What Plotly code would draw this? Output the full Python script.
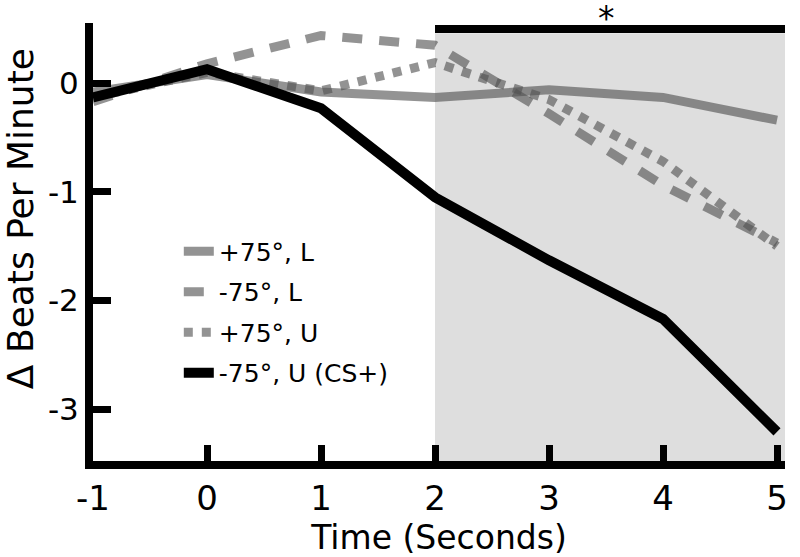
import plotly.graph_objects as go

# ---- data ----
time_s = [-1, 0, 1, 2, 3, 4, 5]
pos75_L = [-0.08, 0.08, -0.08, -0.13, -0.06, -0.13, -0.34]
neg75_L = [-0.17, 0.18, 0.44, 0.35, -0.28, -0.94, -1.47]
pos75_U = [-0.13, 0.10, -0.07, 0.19, -0.15, -0.72, -1.50]
neg75_U_CS = [-0.13, 0.13, -0.23, -1.05, -1.63, -2.17, -3.21]
series_names = ["+75°, L", "-75°, L", "+75°, U", "-75°, U (CS+)"]
x_ticks = [-1, 0, 1, 2, 3, 4, 5]
y_ticks = [-3, -2, -1, 0]
sig_window = [2, 5]
sig_label = "*"

FONT = "DejaVu Sans"
GRAY = "rgba(80,80,80,0.62)"

fig = go.Figure()
styles = [
    dict(color=GRAY, width=9, dash="solid"),
    dict(color=GRAY, width=9, dash="20px,17px"),
    dict(color=GRAY, width=9, dash="9px,9px"),
    dict(color="black", width=10, dash="solid"),
]
for i, (name, ys) in enumerate(zip(series_names, [pos75_L, neg75_L, pos75_U, neg75_U_CS])):
    fig.add_trace(go.Scatter(x=time_s, y=ys, mode="lines", name=name,
                             line=styles[i], legendgroup=f"g{i}", cliponaxis=False))

XR = [-1, 5.07]
YR = [-3.478, 0.555]

fig.add_shape(type="rect", xref="x", yref="y", x0=sig_window[0], x1=XR[1],
              y0=YR[0], y1=0.46, fillcolor="#dedede", line_width=0, layer="below")
fig.add_shape(type="line", xref="x", yref="y", x0=sig_window[0], x1=XR[1],
              y0=0.5, y1=0.5, line=dict(color="black", width=8))
fig.add_annotation(x=(sig_window[0] + sig_window[1]) / 2, y=1.011, xref="x", yref="paper",
                   text=sig_label, showarrow=False, font=dict(family=FONT, size=33, color="black"),
                   yanchor="middle")
fig.add_annotation(x=-0.105, y=0.553, xref="paper", yref="paper", text="Δ Beats Per Minute",
                   textangle=-90, showarrow=False, font=dict(family=FONT, size=36, color="black"),
                   xanchor="center", yanchor="middle")

fig.update_layout(
    width=800, height=557,
    margin=dict(l=93, r=13, t=23, b=91),
    paper_bgcolor="white", plot_bgcolor="white",
    font=dict(family=FONT, color="black"),
    showlegend=True,
    legend=dict(x=0.124, y=0.531, xanchor="left", yanchor="top", bgcolor="rgba(0,0,0,0)",
                font=dict(family=FONT, size=25), tracegroupgap=5),
    xaxis=dict(range=XR, tickvals=x_ticks, ticktext=[str(v) for v in x_ticks],
               showline=True, linecolor="black", linewidth=8, ticks="inside", ticklen=16,
               tickwidth=7, tickcolor="black", showgrid=False, zeroline=False,
               tickfont=dict(family=FONT, size=34),
               title=dict(text="Time (Seconds)", font=dict(family=FONT, size=33), standoff=4)),
    yaxis=dict(range=YR, tickvals=y_ticks, ticktext=[str(v) for v in y_ticks],
               showline=True, linecolor="black", linewidth=8, ticks="inside", ticklen=18,
               tickwidth=7, tickcolor="black", showgrid=False, zeroline=False,
               tickfont=dict(family=FONT, size=31)),
)

# remove the default page margin so the figure sits at the top-left of the window
fig.write_html("out.html", config={"displayModeBar": False},
               post_script="document.body.style.margin='0';document.body.style.overflow='hidden';")
